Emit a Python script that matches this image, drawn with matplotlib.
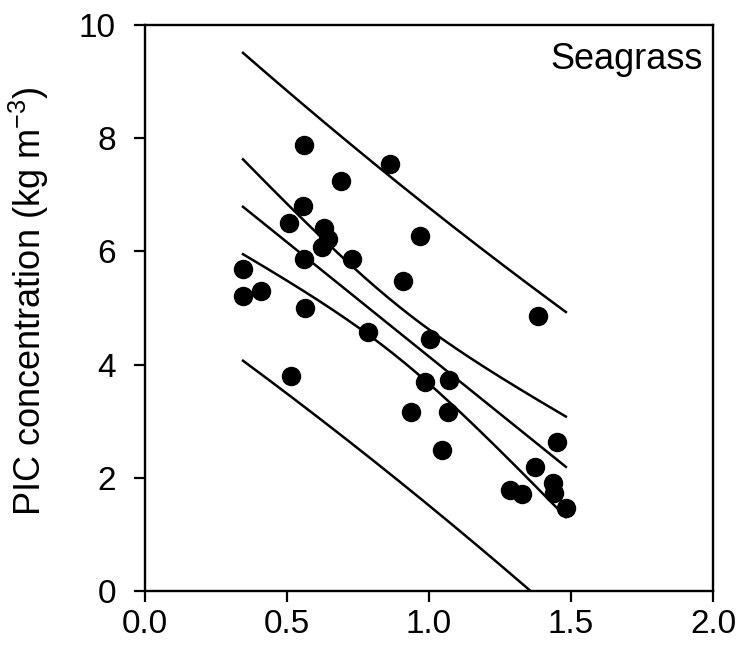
import matplotlib.pyplot as plt
import numpy as np

# data
x = [0.345, 0.345, 0.408, 0.559, 0.555, 0.506, 0.559, 0.564, 0.691, 0.631,
     0.646, 0.622, 0.729, 0.515, 0.863, 0.968, 0.910, 0.786, 1.002, 0.986,
     0.936, 1.071, 1.066, 1.046, 1.383, 1.451, 1.374, 1.285, 1.326, 1.438,
     1.440, 1.482]
y = [5.68, 5.22, 5.30, 7.88, 6.80, 6.50, 5.86, 5.00, 7.25, 6.42,
     6.22, 6.08, 5.86, 3.79, 7.54, 6.28, 5.47, 4.58, 4.46, 3.69,
     3.16, 3.73, 3.16, 2.50, 4.85, 2.63, 2.20, 1.78, 1.71, 1.91,
     1.74, 1.46]
xticks = [0.0, 0.5, 1.0, 1.5, 2.0]
yticks = [0, 2, 4, 6, 8, 10]

plt.rcParams['font.family'] = ['Liberation Sans', 'DejaVu Sans']
plt.rcParams['mathtext.fontset'] = 'custom'
plt.rcParams['mathtext.rm'] = 'Liberation Sans'
plt.rcParams['mathtext.it'] = 'Liberation Sans'

x = np.array(x)
y = np.array(y)
n = len(x)

# linear regression with 95% confidence and prediction bands
slope, icpt = np.polyfit(x, y, 1)
resid = y - (slope * x + icpt)
s = np.sqrt(np.sum(resid ** 2) / (n - 2))
t = 2.042  # t(0.975, df=30)
xf = np.linspace(x.min(), x.max(), 200)
yf = slope * xf + icpt
sxx = np.sum((x - x.mean()) ** 2)
ci = t * s * np.sqrt(1 / n + (xf - x.mean()) ** 2 / sxx)
pi = t * s * np.sqrt(1 + 1 / n + (xf - x.mean()) ** 2 / sxx)

fig = plt.figure(figsize=(7.4, 6.56), dpi=100)
ax = fig.add_axes([0.196, 0.099, 0.7675, 0.863])

ax.plot(x, y, 'o', color='black', markersize=13, zorder=3)
for band in (yf, yf + ci, yf - ci, yf + pi, yf - pi):
    ax.plot(xf, band, color='black', lw=1.8)

ax.set_xlim(0, 2)
ax.set_ylim(0, 10)
ax.set_xticks(xticks)
ax.set_yticks(yticks)
ax.set_xticklabels(['%.1f' % v for v in xticks])
ax.tick_params(direction='out', length=8, width=1.6, labelsize=24)
ax.tick_params(axis='x', pad=5)
ax.tick_params(axis='y', pad=13)
for sp in ax.spines.values():
    sp.set_linewidth(1.7)

ax.set_ylabel('PIC concentration (kg m$^{-3}$)', fontsize=26)
ax.yaxis.set_label_coords(-0.165, 0.512)
ax.text(0.982, 0.922, 'Seagrass', transform=ax.transAxes, ha='right',
        va='baseline', fontsize=26)

fig.savefig('out.png', dpi=100)
